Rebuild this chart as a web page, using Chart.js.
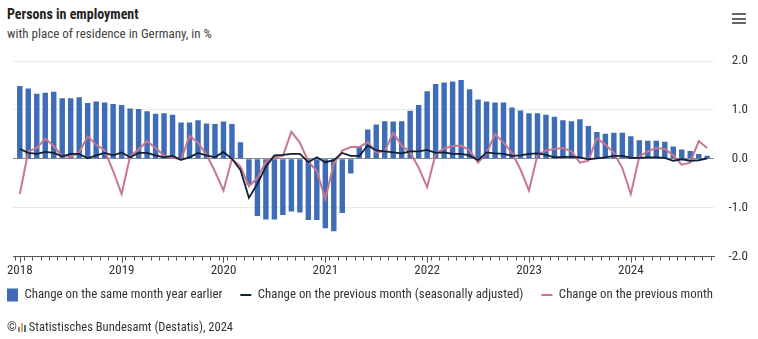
<!DOCTYPE html>
<html>
<head>
<meta charset="utf-8">
<script src="https://cdn.jsdelivr.net/npm/chart.js@4.4.1/dist/chart.umd.min.js"></script>
<style>
  html, body { margin: 0; padding: 0; background: #fff; }
  body { width: 758px; height: 339px; position: relative; overflow: hidden;
         font-family: "Roboto Condensed", "Liberation Sans Narrow", Roboto, sans-serif; color: #333; }
  #title { position: absolute; left: 7px; top: 6px; font-size: 14px; font-weight: bold; color: #222; }
  #subtitle { position: absolute; left: 7px; top: 26px; font-size: 13px; color: #444; }
  #menu { position: absolute; left: 732px; top: 13px; width: 14px; }
  #menu div { height: 2px; background: #666; margin-bottom: 2.5px; }
  #wrap { position: absolute; left: 0; top: 45px; width: 758px; height: 276px; }
  #footer { position: absolute; left: 7px; top: 319px; font-size: 12.5px; color: #333; }
  #footer .logo { display: inline-block; width: 9px; height: 9px; vertical-align: -1px; margin: 0 2px 0 1px; position: relative; }
  #footer .logo span { position: absolute; bottom: 0; width: 2px; }
</style>
</head>
<body>
<div id="title">Persons in employment</div>
<div id="subtitle">with place of residence in Germany, in %</div>
<div id="menu"><div></div><div></div><div></div></div>
<div id="wrap"><canvas id="chart"></canvas></div>
<div id="footer">©<span class="logo"><span style="left:0;height:5px;background:#888"></span><span style="left:3px;height:9px;background:#e8a33d"></span><span style="left:6px;height:7px;background:#3f6cb6"></span></span>Statistisches Bundesamt (Destatis), 2024</div>
<script>
const years = ["2018", "2019", "2020", "2021", "2022", "2023", "2024"];

// change on the same month a year earlier, Jan 2018 .. Oct 2024
const yearOnYear = [
  1.49, 1.44, 1.33, 1.35, 1.37, 1.24, 1.24, 1.26, 1.14, 1.17, 1.15, 1.12,
  1.10, 1.03, 1.02, 0.97, 0.92, 0.93, 0.90, 0.74, 0.74, 0.79, 0.72, 0.71,
  0.76, 0.71, 0.34, -0.53, -1.17, -1.24, -1.24, -1.15, -1.08, -1.10, -1.25, -1.25,
  -1.42, -1.48, -1.11, -0.30, 0.24, 0.60, 0.70, 0.77, 0.76, 0.77, 0.98, 1.10,
  1.38, 1.53, 1.56, 1.58, 1.61, 1.42, 1.21, 1.17, 1.15, 1.15, 1.05, 0.99,
  0.93, 0.93, 0.90, 0.86, 0.79, 0.77, 0.81, 0.67, 0.55, 0.51, 0.53, 0.53,
  0.46, 0.38, 0.37, 0.37, 0.35, 0.25, 0.19, 0.16, 0.10, 0.06
];

// change on the previous month, seasonally adjusted
const monthSA = [
  0.20, 0.12, 0.10, 0.14, 0.12, 0.05, 0.10, 0.10, 0.01, 0.07, 0.12, 0.07,
  0.13, 0.03, 0.12, 0.12, 0.07, 0.03, 0.06, -0.02, 0.03, 0.12, 0.07, 0.03,
  0.14, 0.00, -0.23, -0.80, -0.51, -0.16, 0.07, 0.08, 0.10, 0.10, -0.07, 0.03,
  -0.07, -0.03, 0.12, 0.06, 0.06, 0.27, 0.17, 0.15, 0.13, 0.11, 0.15, 0.15,
  0.18, 0.12, 0.13, 0.10, 0.10, 0.07, -0.03, 0.13, 0.11, 0.10, 0.06, 0.07,
  0.10, 0.11, 0.08, 0.03, 0.04, 0.04, 0.03, -0.01, 0.01, 0.03, 0.06, 0.06,
  0.02, 0.02, 0.03, 0.03, 0.02, -0.04, -0.01, -0.04, -0.03, 0.01
];

// change on the previous month, not adjusted
const monthRaw = [
  -0.72, 0.15, 0.22, 0.41, 0.26, 0.05, 0.04, 0.13, 0.46, 0.29, 0.17, -0.25,
  -0.72, 0.05, 0.19, 0.36, 0.22, 0.06, 0.03, -0.02, 0.47, 0.33, 0.08, -0.26,
  -0.65, 0.00, -0.16, -0.56, -0.39, -0.06, 0.03, 0.06, 0.55, 0.33, -0.06, -0.25,
  -0.82, -0.10, 0.17, 0.24, 0.24, 0.34, 0.13, 0.15, 0.53, 0.27, 0.13, -0.18,
  -0.58, 0.10, 0.21, 0.26, 0.27, 0.17, -0.08, 0.12, 0.50, 0.33, 0.12, -0.22,
  -0.65, 0.08, 0.17, 0.20, 0.22, 0.15, -0.08, -0.04, 0.42, 0.29, 0.12, -0.19,
  -0.72, 0.05, 0.15, 0.22, 0.20, 0.07, -0.12, -0.08, 0.36, 0.22
];

const yTicks = [-2, -1, 0, 1, 2];

const FONT = '"Roboto Condensed", "Liberation Sans Narrow", Roboto, sans-serif';
const toXY = arr => arr.map((v, i) => ({ x: i, y: v }));

// shift the legend so it starts at the page edge, and sit it a bit closer to the axis
const legendShift = {
  id: "legendShift",
  afterLayout(chart) {
    const lg = chart.legend;
    lg.left = -11;
    lg.top = chart.chartArea.bottom + 14;
  }
};

// year ticks are a bit longer than the month ticks
const yearTicks = {
  id: "yearTicks",
  afterDraw(chart) {
    const x = chart.scales.x;
    const c = chart.ctx;
    c.save();
    c.strokeStyle = "#555";
    c.lineWidth = 1;
    x.ticks.forEach(t => {
      if (t.value % 12 !== 0) return;
      const px = Math.round(x.getPixelForValue(t.value)) + 0.5;
      c.beginPath();
      c.moveTo(px, x.top);
      c.lineTo(px, x.top + 6);
      c.stroke();
    });
    c.restore();
  }
};

new Chart(document.getElementById("chart"), {
  type: "bar",
  data: {
    datasets: [
      {
        type: "bar",
        label: "Change on the same month year earlier",
        data: toXY(yearOnYear),
        xAxisID: "x",
        yAxisID: "y",
        backgroundColor: "#3f6cb6",
        borderWidth: 0,
        barPercentage: 0.8,
        categoryPercentage: 0.8,
        pointStyle: "rect",
        order: 3
      },
      {
        type: "line",
        label: "Change on the previous month (seasonally adjusted)",
        data: toXY(monthSA),
        xAxisID: "x",
        yAxisID: "y",
        borderColor: "#131e38",
        backgroundColor: "#131e38",
        borderWidth: 1.8,
        pointRadius: 0,
        pointStyle: "line",
        tension: 0,
        order: 1
      },
      {
        type: "line",
        label: "Change on the previous month",
        data: toXY(monthRaw),
        xAxisID: "x",
        yAxisID: "y",
        borderColor: "#c8768b",
        backgroundColor: "#c8768b",
        borderWidth: 2,
        pointRadius: 0,
        pointStyle: "line",
        tension: 0,
        order: 2
      }
    ]
  },
  options: {
    responsive: true,
    maintainAspectRatio: false,
    animation: false,
    layout: { padding: { left: 0, right: 10, top: 16, bottom: 0 } },
    plugins: {
      legend: {
        position: "bottom",
        align: "start",
        labels: {
          usePointStyle: true,
          pointStyleWidth: 11,
          padding: 18,
          color: "#333",
          font: { family: FONT, size: 12.85 },
          sort: (a, b) => a.datasetIndex - b.datasetIndex
        }
      },
      tooltip: { enabled: false }
    },
    scales: {
      x: {
        type: "linear",
        min: -0.8,
        max: yearOnYear.length - 0.2,
        offset: false,
        afterBuildTicks: scale => {
          scale.ticks = yearOnYear.map((_, i) => ({ value: i }));
        },
        ticks: {
          autoSkip: false,
          maxRotation: 0,
          padding: 2,
          color: "#333",
          font: { family: FONT, size: 13 },
          callback: v => (v % 12 === 0 ? years[v / 12] : "")
        },
        grid: { drawOnChartArea: false, drawTicks: true, tickLength: 4, color: "#555" },
        border: { display: true, color: "#555", width: 1 }
      },
      // empty spacer on the left so the plot starts a little in from the edge
      yl: {
        position: "left",
        display: true,
        ticks: { display: false },
        grid: { display: false, drawTicks: false },
        border: { display: false },
        afterFit: scale => { scale.width = 13; }
      },
      y: {
        position: "right",
        min: -2,
        max: 2,
        afterBuildTicks: scale => {
          scale.ticks = yTicks.map(v => ({ value: v }));
        },
        afterFit: scale => { scale.width = 34; },
        ticks: {
          padding: 1,
          crossAlign: "far",
          color: "#333",
          font: { family: FONT, size: 13 },
          callback: v => v.toFixed(1)
        },
        grid: {
          drawTicks: false,
          color: ctx => (ctx.tick && ctx.tick.value === 0 ? "#8a8a8a" : "#e9e9e9"),
          lineWidth: 1
        },
        border: { display: false }
      }
    }
  },
  plugins: [legendShift, yearTicks]
});
</script>
</body>
</html>
